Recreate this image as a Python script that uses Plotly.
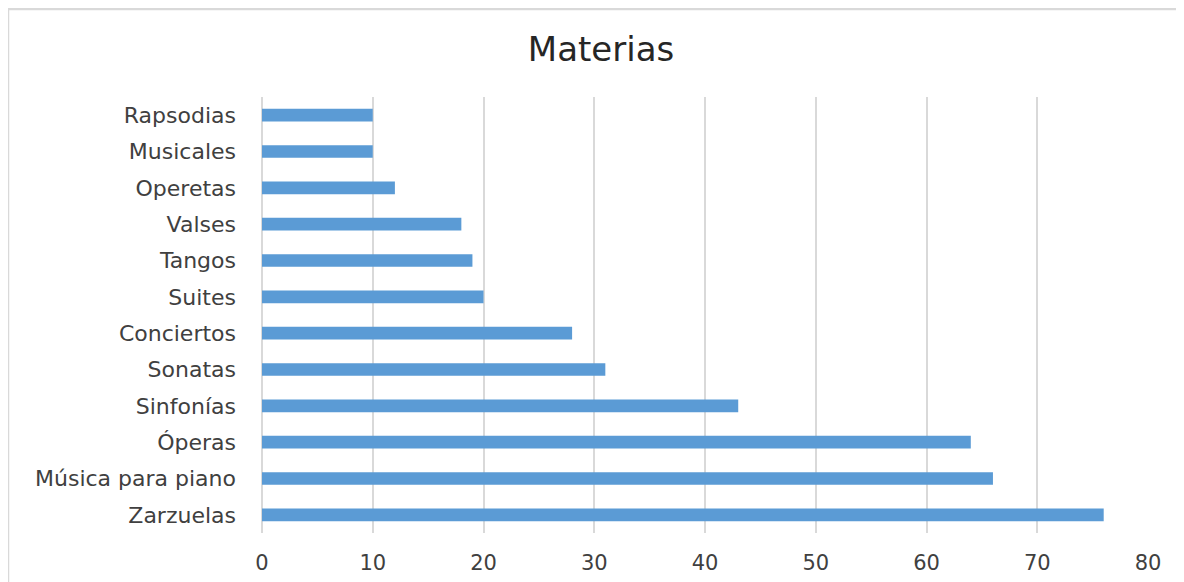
import plotly.graph_objects as go

categories = ["Zarzuelas", "Música para piano", "Óperas", "Sinfonías", "Sonatas",
              "Conciertos", "Suites", "Tangos", "Valses", "Operetas", "Musicales", "Rapsodias"]
values = [76, 66, 64, 43, 31, 28, 20, 19, 18, 12, 10, 10]
x_ticks = [0, 10, 20, 30, 40, 50, 60, 70, 80]
title_text = "Materias"

# the page draws the figure 8px in from the top-left corner (body margin)
OFF = 8
W, H = 1184 - OFF, 582 - OFF
L, R, T, B = 262 - OFF, 1148 - OFF, 97 - OFF, 533 - OFF

fig = go.Figure(go.Bar(
    y=categories, x=values, orientation="h",
    marker=dict(color="#5B9BD5", line=dict(width=0)),
    width=0.35,
))

font = "DejaVu Sans, Liberation Sans, Arial, sans-serif"
fig.update_layout(
    width=W, height=H,
    margin=dict(l=L, r=W - R, t=T, b=H - B, pad=0, autoexpand=False),
    paper_bgcolor="white", plot_bgcolor="white",
    font=dict(family=font, color="#404040", size=22),
    title=dict(text=title_text, x=(601 - OFF) / W, xref="container", xanchor="center",
               y=1 - (49 - OFF) / H, yref="container", yanchor="middle",
               font=dict(size=34, color="#262626", family=font)),
    showlegend=False,
)
fig.update_xaxes(
    range=[0, 80], tickvals=x_ticks, showgrid=True, gridcolor="#D9D9D9", gridwidth=2,
    zeroline=True, zerolinecolor="#D9D9D9", zerolinewidth=2, showline=False,
    ticks="", ticklabelstandoff=15, tickfont=dict(size=21, color="#404040"),
    automargin=False,
)
fig.update_yaxes(
    categoryorder="array", categoryarray=categories, showgrid=False,
    showline=False, zeroline=False, ticks="", ticklabelstandoff=25,
    tickfont=dict(size=22, color="#404040"), automargin=False,
)

# outer chart border (extends past the right and bottom edges of the image)
px = lambda x: (x - OFF - L) / (R - L)
py = lambda y: (B - (y - OFF)) / (B - T)
fig.add_shape(type="rect", xref="paper", yref="paper",
              x0=px(8), x1=px(1184 + 20), y0=py(9), y1=py(582 + 20),
              line=dict(color="#D9D9D9", width=2.5), layer="below")

fig.write_html("out.html")
